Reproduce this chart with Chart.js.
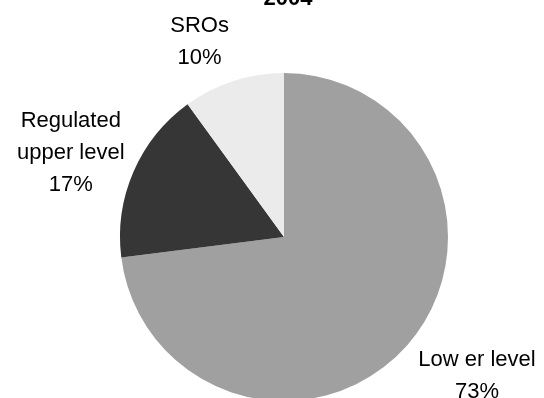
<!DOCTYPE html>
<html>
<head>
<meta charset="utf-8">
<script src="https://cdn.jsdelivr.net/npm/chart.js@4"></script>
<style>
  html, body { margin: 0; padding: 0; background: #ffffff; overflow: hidden; }
  #wrap { width: 544px; height: 398px; overflow: hidden; position: relative; }
  canvas { display: block; }
</style>
</head>
<body>
<div id="wrap"><canvas id="pie" width="544" height="420"></canvas></div>
<script>
// Market shares in 2004
const chartTitle = '2004';
const categories = [['Low er level'], ['Regulated', 'upper level'], ['SROs']];
const shares = [73, 17, 10];
const sliceColors = ['#a0a0a0', '#363636', '#ebebeb'];

// Label placement: block centre along the slice's mid-angle, then nudged (px)
const labelRadius = 1.39;
const labelNudge = [[22, -14], [-4, 5], [-14, 20]];
const lineHeight = 32;
const labelFont = '22px "Liberation Sans", Arial, sans-serif';

const sliceLabels = {
  id: 'sliceLabels',
  afterDraw(chart) {
    const ctx = chart.ctx;
    const meta = chart.getDatasetMeta(0);
    const data = chart.data.datasets[0].data;
    ctx.save();
    ctx.fillStyle = '#000000';
    ctx.textAlign = 'center';
    ctx.textBaseline = 'alphabetic';
    let cx = 0, cy = 0;
    meta.data.forEach((arc, i) => {
      const p = arc.getProps(['x', 'y', 'startAngle', 'endAngle', 'outerRadius'], true);
      cx = p.x; cy = p.y;
      const mid = (p.startAngle + p.endAngle) / 2;
      const lx = p.x + Math.cos(mid) * p.outerRadius * labelRadius + labelNudge[i][0];
      const ly = p.y + Math.sin(mid) * p.outerRadius * labelRadius + labelNudge[i][1];
      const lines = categories[i].concat([data[i] + '%']);
      const top = ly - (lines.length - 1) * lineHeight / 2 + 8;
      ctx.font = labelFont;
      lines.forEach((t, k) => ctx.fillText(t, lx, top + k * lineHeight));
    });
    // title, partly above the top edge
    ctx.font = 'bold 22px "Liberation Sans", Arial, sans-serif';
    ctx.fillText(chartTitle, cx + 4, 5);
    ctx.restore();
  }
};

new Chart(document.getElementById('pie'), {
  type: 'pie',
  data: {
    labels: categories.map(c => c.join(' ')),
    datasets: [{
      data: shares,
      backgroundColor: sliceColors,
      borderWidth: 0,
      hoverOffset: 0
    }]
  },
  options: {
    responsive: false,
    animation: false,
    events: [],
    layout: { padding: { left: 120, right: 96, top: 73, bottom: 19 } },
    plugins: {
      legend: { display: false },
      tooltip: { enabled: false },
      title: { display: false }
    }
  },
  plugins: [sliceLabels]
});
</script>
</body>
</html>
